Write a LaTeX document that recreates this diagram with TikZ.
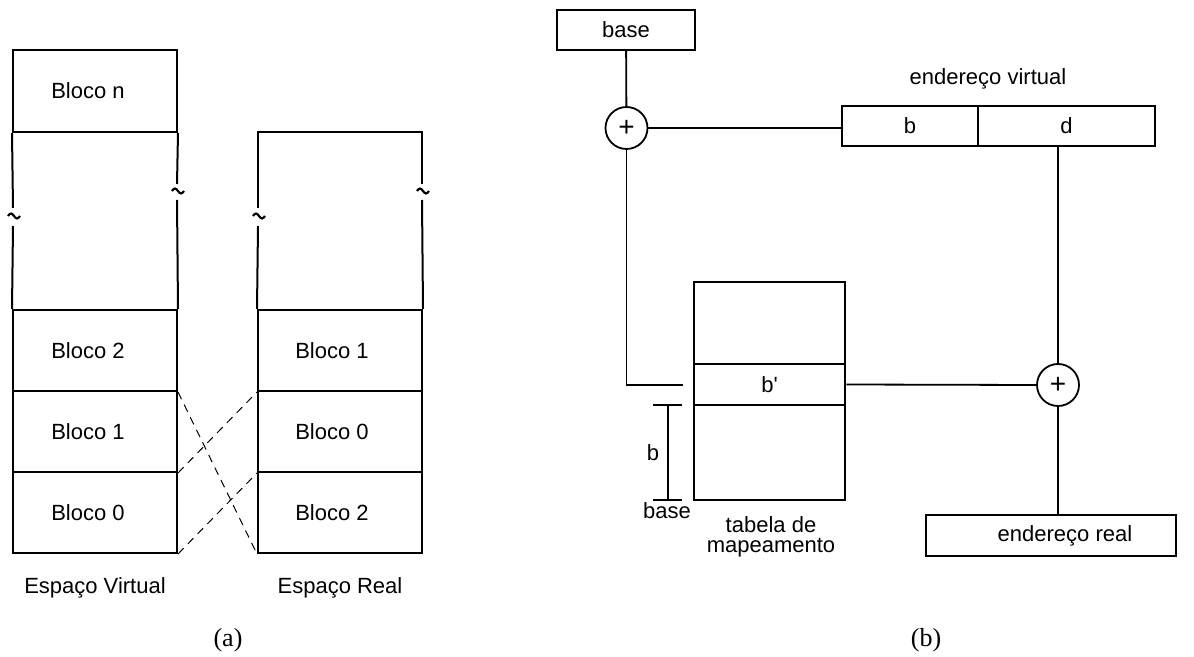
\documentclass[tikz,border=0pt]{standalone}
\usepackage{fontspec}
\setmainfont{Liberation Sans}
\newfontfamily\plainsans{Liberation Sans}
\newfontfamily\capfont{Liberation Serif}
\begin{document}
\begin{tikzpicture}[x=0.5pt,y=-0.5pt,
  box/.style={draw,line width=1pt,rectangle,inner sep=0pt},
  txt/.style={font=\fontsize{11}{13}\selectfont,inner sep=0pt},
  wall/.style={line width=1pt},
  conn/.style={line width=0.9pt},
  tildemark/.style={line width=1.1pt},
  mapline/.style={line width=0.5pt,dash pattern=on 4pt off 3pt},
  sumnode/.style={draw,circle,line width=0.9pt,minimum size=21pt,inner sep=0pt,font=\fontsize{14}{16}\selectfont},
  capt/.style={font=\capfont\fontsize{13}{15}\selectfont,inner sep=0pt}]
\useasboundingbox (0,0) rectangle (1194,657);

% ---------- (a) virtual space ----------
\node[box,minimum width=82pt,minimum height=41pt,label={[txt,xshift=-3.5pt]center:Bloco n}] (vn) at (95,91) {};
\node[box,minimum width=82pt,minimum height=40.5pt,label={[txt,xshift=-3.5pt]center:Bloco 2}] (v2) at (95,350.5) {};
\node[box,minimum width=82pt,minimum height=40.5pt,label={[txt,xshift=-3.5pt]center:Bloco 1}] (v1) at (95,431.5) {};
\node[box,minimum width=82pt,minimum height=40.5pt,label={[txt,xshift=-3.5pt]center:Bloco 0}] (v0) at (95,512.5) {};

\coordinate (vla) at (13,208);
\coordinate (vlb) at (13,226);
\coordinate (vra) at (177,184);
\coordinate (vrb) at (177,200);
\draw[wall] (vn.south west) -- (vla);
\draw[wall] (vlb) -- (v2.north west);
\draw[wall] (vn.south east) -- (vra);
\draw[wall] (vrb) -- (v2.north east);
\coordinate (tv1) at (14,216);
\coordinate (tv2) at (178,191);
\draw[tildemark] (tv1) ++(-6,0) sin ++(3,-2.5) cos ++(3,2.5) sin ++(3,2.5) cos ++(3,-2.5);
\draw[tildemark] (tv2) ++(-6,0) sin ++(3,-2.5) cos ++(3,2.5) sin ++(3,2.5) cos ++(3,-2.5);

% ---------- (a) real space ----------
\node[box,minimum width=82pt,minimum height=40.5pt,label={[txt,xshift=-4pt]center:Bloco 1}] (r1) at (340,350.5) {};
\node[box,minimum width=82pt,minimum height=40.5pt,label={[txt,xshift=-4pt]center:Bloco 0}] (r0) at (340,431.5) {};
\node[box,minimum width=82pt,minimum height=40.5pt,label={[txt,xshift=-4pt]center:Bloco 2}] (r2) at (340,512.5) {};

\coordinate (rtl) at (258,132);
\coordinate (rtr) at (422,132);
\coordinate (rla) at (258,208);
\coordinate (rlb) at (258,226);
\coordinate (rra) at (422,184);
\coordinate (rrb) at (422,200);
\draw[wall] (rla) -- (rtl) -- (rtr) -- (rra);
\draw[wall] (rlb) -- (r1.north west);
\draw[wall] (rrb) -- (r1.north east);
\coordinate (tr1) at (259,216);
\coordinate (tr2) at (423,191);
\draw[tildemark] (tr1) ++(-6,0) sin ++(3,-2.5) cos ++(3,2.5) sin ++(3,2.5) cos ++(3,-2.5);
\draw[tildemark] (tr2) ++(-6,0) sin ++(3,-2.5) cos ++(3,2.5) sin ++(3,2.5) cos ++(3,-2.5);

\draw[mapline] (v2.south east) -- (r2.south west);
\draw[mapline] (v1.south east) -- (r1.south west);
\draw[mapline] (v0.south east) -- (r0.south west);

\node[txt] (ev1) at (95,588) {Espaço Virtual};
\node[txt] (er1) at (340,588) {Espaço Real};
\node[capt] (ca) at (228,640) {(a)};

% ---------- (b) ----------
\node[box,txt,minimum width=69pt,minimum height=20pt] (base) at (626,30) {base};
\node[sumnode] (p1) at (626.5,128) {+};
\node[box,txt,minimum width=68pt,minimum height=20pt] (bc) at (910,126) {b};
\node[box,txt,minimum width=88.5pt,minimum height=20pt] (dc) at (1066.5,126) {d};
\node[txt] (evl) at (988,79) {endereço virtual};

\node[box,minimum width=75.5pt,minimum height=109pt] (tab) at (769.5,391) {};
\node[box,txt,line width=1.3pt,minimum width=75.5pt,minimum height=20.5pt] (bp) at (769.5,384.5) {b{\plainsans'}};

\node[sumnode] (p2) at (1058,385) {+};
\node[box,minimum width=125pt,minimum height=20.5pt,label={[txt,xshift=7pt]center:endereço real}] (ra) at (1051,535.5) {};

\coordinate (tabin) at (683,385);
\coordinate (dout) at (1058,146);
\draw[conn] (base) -- (p1);
\draw[conn] (p1.east) -- (bc.west |- p1.east);
\draw[conn] (p1.south) |- (tabin);
\draw[conn] (dout) -- (p2.north);
\draw[conn] (bp.east) -- (p2.west);
\draw[conn] (p2.south) -- (p2.south |- ra.north);

\coordinate (bt) at (668,405);
\coordinate (bb) at (668,500);
\draw[conn] (bt) -- (bb);
\draw[conn] ([xshift=-7.5pt]bt) -- ([xshift=7pt]bt);
\draw[conn] ([xshift=-7.5pt]bb) -- ([xshift=7pt]bb);
\node[txt] (lb) at (653,453) {b};
\node[txt] (lbase) at (667,511) {base};
\node[txt,align=center,font=\fontsize{11}{10}\selectfont] (tm) at (771,537) {tabela de\\mapeamento};

\node[capt] (cb) at (926,640) {(b)};
\end{tikzpicture}
\end{document}
